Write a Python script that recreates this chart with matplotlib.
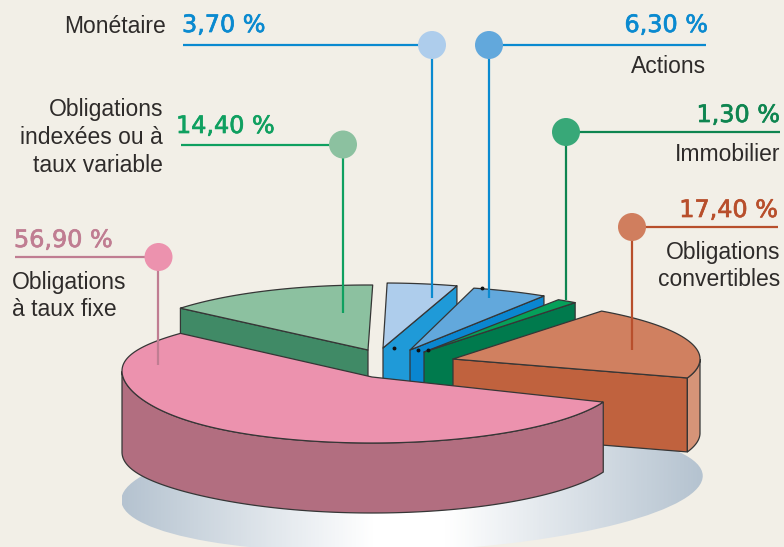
import numpy as np
import matplotlib
matplotlib.use("Agg")
import matplotlib.pyplot as plt
import matplotlib.patheffects as pe
from matplotlib.patches import Polygon, Ellipse, Circle
from matplotlib.colors import LinearSegmentedColormap

categories = ["Obligations indexées ou à taux variable", "Monétaire", "Actions",
              "Immobilier", "Obligations convertibles", "Obligations à taux fixe"]
values = [14.40, 3.70, 6.30, 1.30, 17.40, 56.90]
value_labels = ["14,40 %", "3,70 %", "6,30 %", "1,30 %", "17,40 %", "56,90 %"]

BG = "#f2efe7"
EDGE = "#363636"
TEXT = "#2e2b2a"
SANS = ["Liberation Sans", "DejaVu Sans"]
NUM = ["DejaVu Sans"]

# geometry of each exploded slice (pixels): apex, semi-axes, start parameter,
# perspective factor on the sweep, side that shows a cut wall
geom = {
    "Obligations indexées ou à taux variable": dict(ax=368, ay=350, a=245, b=65, t0=88.9, k=0.985, cut="end", d=70),
    "Monétaire": dict(ax=383, ay=348, a=250, b=65, t0=72.8, k=1.22, cut="start", d=70),
    "Actions": dict(ax=410, ay=350, a=250, b=64, t0=57.6, k=0.776, cut="start", d=70),
    "Immobilier": dict(ax=424, ay=352, a=250, b=62, t0=52.8, k=1.0, cut="start", d=70),
    "Obligations convertibles": dict(ax=453, ay=359, a=247, b=60, t0=-18.4, k=1.14, cut="start", d=74),
    "Obligations à taux fixe": dict(ax=372, ay=377, a=250, b=66, t0=140.0, k=0.965, cut=None, d=70),
}
top_col = dict(zip(categories, ["#8cc1a0", "#aecdec", "#62a8dc", "#05a05a", "#d08060", "#ec92ae"]))
wall_col = dict(zip(categories, ["#408a66", "#1f9ad8", "#0a86d0", "#007a4d", "#c0623e", "#b26e80"]))
rim_col = {"Obligations convertibles": "#d69478", "Obligations à taux fixe": "#b26e80"}

fig = plt.figure(figsize=(7.84, 5.47), dpi=100, facecolor=BG)
ax = fig.add_axes([0, 0, 1, 1])
ax.set_facecolor(BG)
ax.axis("off")

# ground shadow
cm = LinearSegmentedColormap.from_list("sh", [(0, "#b5c3d0"), (0.43, "#ffffff"), (0.56, "#ffffff"), (1, "#b5c3d0")])
im = ax.imshow(np.linspace(0, 1, 400).reshape(1, -1), cmap=cm, extent=[122, 703, 560, 420], aspect="auto", zorder=1)
sh = Ellipse((412, 488), 582, 126, angle=-2.5, transform=ax.transData, fc="none", ec="none")
ax.add_patch(sh)
im.set_clip_path(sh)


def rim(g, t):
    t = np.radians(t)
    c = np.cos(t)
    s = np.sin(t)
    left = np.maximum(0, -c) ** 6
    x = g["ax"] + g["a"] * c
    y = g["ay"] - g["b"] * s
    if g["cut"] is None:
        y = y - 6 * left
    return np.column_stack([x, y]), left


z = 2
for cat, val in zip(categories, values):
    g = geom[cat]
    sweep = val * 3.6 * g["k"]
    t = np.linspace(g["t0"], g["t0"] + sweep, 300)
    pts, left = rim(g, t)
    apex = np.array([[g["ax"], g["ay"]]])
    # cut wall
    if g["cut"]:
        c = pts[0] if g["cut"] == "start" else pts[-1]
        wall = np.array([apex[0], c, c + [0, g["d"]], apex[0] + [0, g["d"]]])
        ax.add_patch(Polygon(wall, closed=True, fc=wall_col[cat], ec=EDGE, lw=0.9, zorder=z, joinstyle="round"))
    # outer rim wall
    front = np.sin(np.radians(t)) < 0
    if cat in rim_col and front.any():
        pf = pts[front]
        extra = left[front] * 11 if g["cut"] is None else 0 * left[front]
        low = pf + np.column_stack([np.zeros(len(pf)), g["d"] + extra])
        ax.add_patch(Polygon(np.vstack([pf, low[::-1]]), closed=True, fc=rim_col[cat], ec=EDGE, lw=0.9, zorder=z))
    ax.add_patch(Polygon(np.vstack([apex, pts]), closed=True, fc=top_col[cat], ec=EDGE, lw=0.9, zorder=z + 0.5, joinstyle="round"))
    z += 1

# small registration dots (above the small slices, under the large one)
ax.plot([394, 418, 428, 482], [348, 350, 350, 288], ls="none", marker="o", ms=1.8, color="#111111", zorder=6.8)

# leaders: dot position, horizontal end, vertical end, line colour, dot colour
leaders = [
    (432, 45, 183, 298, "#0a8ad0", "#aecdec"),
    (489, 45, 706, 298, "#0a8ad0", "#62a8dc"),
    (566, 132, 780, 300, "#0e8550", "#38a878"),
    (343, 144.5, 181, 313, "#0fa060", "#8cc1a0"),
    (632, 227, 778, 350, "#b84f2c", "#d07e5e"),
    (158.5, 257, 15, 365, "#c07d92", "#ec92ae"),
]
for x, y, xe, ye, lc, dc in leaders:
    ax.plot([xe, x], [y, y], color=lc, lw=1.6, solid_capstyle="butt", zorder=z + 1)
    ax.plot([x, x], [y, ye], color=lc, lw=1.6, solid_capstyle="butt", zorder=z + 1)
    ax.add_patch(Circle((x, y), 14, fc=dc, ec="none", zorder=z + 2))

# percentages
num_pos = [(176, 133, "left", "#0fa060"), (182, 32, "left", "#0a8ad0"), (708, 32, "right", "#0a8ad0"),
           (780, 122, "right", "#0e8550"), (778, 217, "right", "#b84f2c"), (14, 247, "left", "#c07d92")]
for s, (x, y, ha, c) in zip(value_labels, num_pos):
    ax.text(x, y, s, ha=ha, va="baseline", color=c, fontsize=17.2, family=NUM, zorder=z + 3,
            path_effects=[pe.withStroke(linewidth=0.5, foreground=c)])

# names
names = [
    ("Monétaire", 166, 33, "right"), ("Actions", 706, 73, "right"), ("Immobilier", 780, 161, "right"),
    ("Obligations", 163, 116, "right"), ("indexées ou à", 163, 144, "right"), ("taux variable", 163, 172, "right"),
    ("Obligations", 780, 259, "right"), ("convertibles", 780, 286, "right"),
    ("Obligations", 12, 289, "left"), ("à taux fixe", 12, 316, "left"),
]
for s, x, y, ha in names:
    ax.text(x, y, s, ha=ha, va="baseline", color=TEXT, fontsize=16.5, family=SANS, zorder=z + 3)

ax.set_xlim(0, 784)
ax.set_ylim(547, 0)
fig.savefig("out.png", dpi=100, facecolor=BG)
